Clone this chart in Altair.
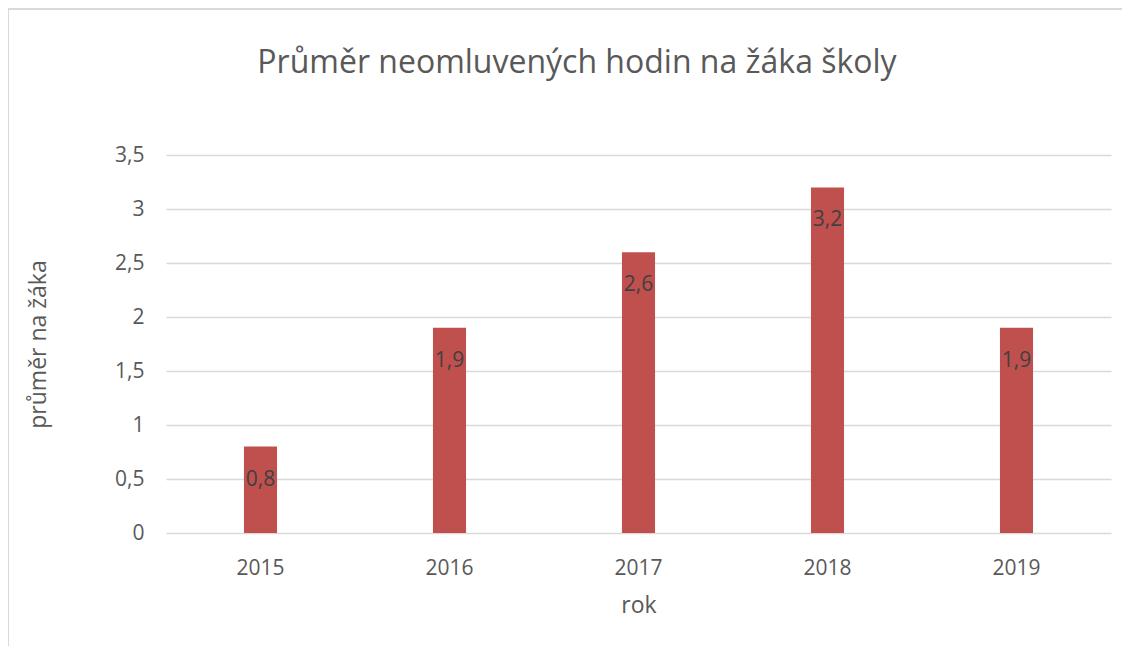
import altair as alt
import pandas as pd

years = ["2015", "2016", "2017", "2018", "2019"]
values = [0.8, 1.9, 2.6, 3.2, 1.9]
title_text = "Průměr neomluvených hodin na žáka školy"
x_title = "rok"
y_title = "průměr na žáka"

df = pd.DataFrame({"rok": years, "hodnota": values})

FONT = "Open Sans"
GREY = "#595959"
GRID = "#d9d9d9"

base = alt.Chart(df)

bars = base.mark_bar(color="#C0504D").encode(
    x=alt.X("rok:N", title=x_title, sort=years,
            scale=alt.Scale(paddingInner=0.825, paddingOuter=0.4125),
            axis=alt.Axis(labelAngle=0, labelFont=FONT, labelFontSize=21, labelColor=GREY,
                          labelPadding=24, ticks=False, domain=False,
                          titleFont=FONT, titleFontSize=23, titleColor=GREY,
                          titleFontWeight="normal", titlePadding=16)),
    y=alt.Y("hodnota:Q", title=y_title,
            scale=alt.Scale(domain=[0, 3.5], nice=False),
            axis=alt.Axis(values=[0, 0.5, 1, 1.5, 2, 2.5, 3, 3.5],
                          format=".1~f",
                          labelExpr="replace(datum.label, '.', ',')",
                          labelFont=FONT, labelFontSize=21, labelColor=GREY,
                          labelPadding=22, ticks=False, domain=False,
                          gridColor=GRID, gridWidth=1.5,
                          titleFont=FONT, titleFontSize=23, titleColor=GREY,
                          titleFontWeight="normal", titlePadding=64)),
)

labels = base.transform_calculate(
    lab="replace(format(datum.hodnota, '.1f'), '.', ',')"
).mark_text(font=FONT, fontSize=21, color="#404040", baseline="middle", dy=33).encode(
    x=alt.X("rok:N", sort=years),
    y=alt.Y("hodnota:Q"),
    text="lab:N",
)

title_df = pd.DataFrame({"t": [title_text]})
title = alt.Chart(title_df).mark_text(font=FONT, fontSize=32, color=GREY,
                                      align="center", baseline="middle").encode(
    x=alt.value(411), y=alt.value(-92), text="t:N"
)

border_left = alt.Chart(df).mark_rule(color=GRID, strokeWidth=2, clip=False).encode(
    x=alt.value(-158), y=alt.value(-146), y2=alt.value(520)
)
border_top = alt.Chart(df).mark_rule(color=GRID, strokeWidth=2, clip=False).encode(
    x=alt.value(-158), x2=alt.value(1000), y=alt.value(-146)
)

chart = alt.layer(border_left, border_top, title, bars, labels).properties(
    width=945, height=378,
    padding={"left": 158, "top": 147, "right": 11, "bottom": 125},
    autosize=alt.AutoSizeParams(type="none"),
).configure_view(stroke=None)

chart.save("out.html", embed_options={"renderer": "svg", "actions": False})
